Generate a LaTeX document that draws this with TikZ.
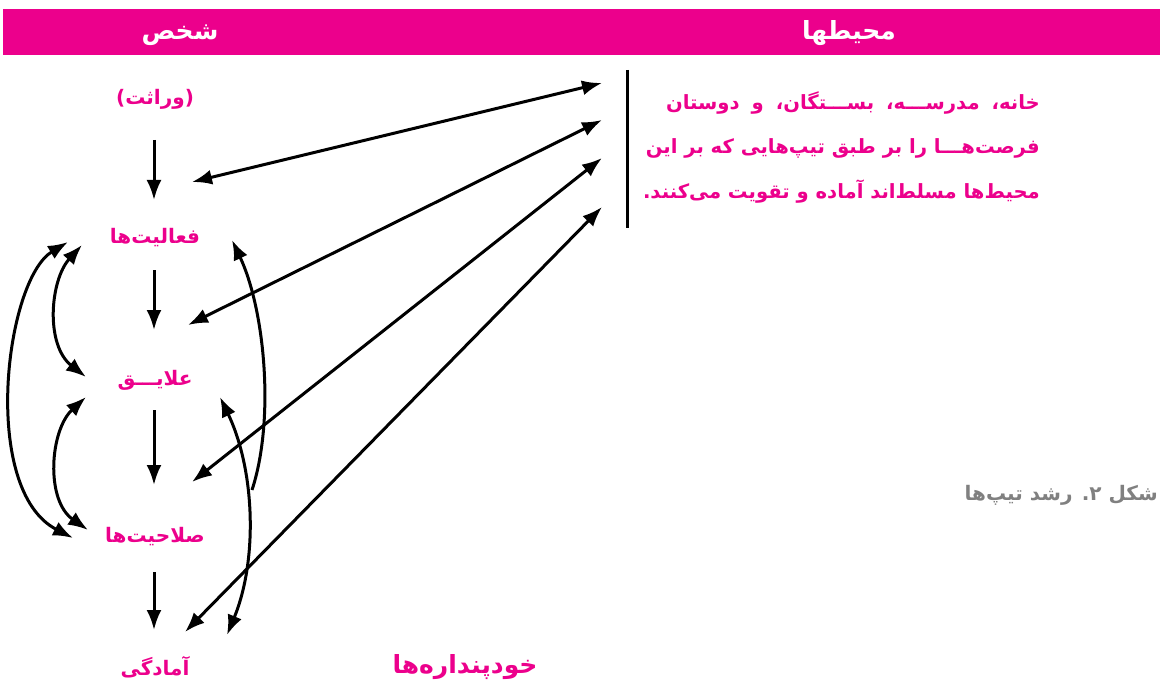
\documentclass[tikz,border=0pt]{standalone}
\usepackage{fontspec}
\usetikzlibrary{arrows.meta}
\TeXXeTstate=1
\newfontfamily\fa[Script=Arabic]{DejaVu Sans}
\definecolor{mag}{HTML}{EC008C}
\definecolor{capgray}{HTML}{808080}
\begin{document}
\begin{tikzpicture}[x=1pt,y=-1pt,
  lbl/.style={text=mag, font=\fa\bfseries\fontsize{20}{24}\selectfont, inner sep=0pt},
  hdr/.style={text=white, font=\fa\bfseries\fontsize{25}{28}\selectfont, inner sep=0pt},
  para/.style={text=mag, font=\fa\bfseries\fontsize{19.6}{24}\selectfont, inner sep=0pt, anchor=east},
  con/.style={line width=3pt, -{Latex[length=20pt,width=15pt]}},
  dcon/.style={line width=3pt, {Latex[length=20pt,width=15pt]}-{Latex[length=20pt,width=15pt]}}]
\useasboundingbox (0,0) rectangle (1160,682);
% header bar
\fill[mag] (3,9) rectangle (1160,55);
\node[hdr] (shakhs) at (180,35) {\beginR شخص\endR};
\node[hdr] (mohit) at (849,33) {\beginR محیطها\endR};
% column labels
\node[lbl] (verasat) at (155,99) {\beginR(وراثت)\endR};
\node[lbl] (faal) at (155,238) {\beginR فعالیت‌ها\endR};
\node[lbl] (alayeq) at (155,380) {\beginR علایـــق\endR};
\node[lbl] (salah) at (155,537) {\beginR صلاحیت‌ها\endR};
\node[lbl] (amadegi) at (155,667) {\beginR آمادگی\endR};
\node[lbl, font=\fa\bfseries\fontsize{25}{28}\selectfont] (khod) at (465,667) {\beginR خودپنداره‌ها\endR};
% paragraph
\node[para] (p1) at (1040,103) {\beginR خانه،\hspace{12pt}مدرســـه،\hspace{12pt}بســـتگان،\hspace{12pt}و\hspace{12pt}دوستان\endR};
\node[para] (p2) at (1040,148) {\beginR فرصت‌هـــا را بر طبق تیپ‌هایی که بر این\endR};
\node[para] (p3) at (1040,192) {\beginR محیط‌ها مسلط‌اند آماده و تقویت می‌کنند.\endR};
\node[text=capgray, font=\fa\bfseries\fontsize{20}{24}\selectfont, inner sep=0pt, anchor=east] (cap) at (1158,495) {\beginR شکل ۲. رشد تیپ‌ها\endR};
% separator
\coordinate (s1) at (627,70);
\coordinate (s2) at (627,228);
\draw[line width=3pt] (s1) -- (s2);
% vertical arrows
\coordinate (v1a) at (154,140); \coordinate (v1b) at (154,200);
\coordinate (v2a) at (154,270); \coordinate (v2b) at (154,330);
\coordinate (v3a) at (154,410); \coordinate (v3b) at (154,485);
\coordinate (v4a) at (154,572); \coordinate (v4b) at (154,630);
\draw[con] (v1a) -- (v1b);
\draw[con] (v2a) -- (v2b);
\draw[con] (v3a) -- (v3b);
\draw[con] (v4a) -- (v4b);
% long lines to environment
\coordinate (l1a) at (192,182); \coordinate (l1b) at (602,83);
\coordinate (l2a) at (188,325); \coordinate (l2b) at (602,120);
\coordinate (l3a) at (192,482); \coordinate (l3b) at (602,158);
\coordinate (l4a) at (185,632); \coordinate (l4b) at (602,207);
\draw[dcon] (l1a) -- (l1b);
\draw[dcon] (l2a) -- (l2b);
\draw[dcon] (l3a) -- (l3b);
\draw[dcon] (l4a) -- (l4b);
% left curves
\coordinate (a1) at (68,242); \coordinate (a2) at (73,538);
\coordinate (b1) at (82,245); \coordinate (b2) at (86,377);
\coordinate (c1) at (86,397); \coordinate (c2) at (88,530);
\draw[dcon] (a1) .. controls (5,280) and (-20,490) .. (a2);
\draw[dcon] (b1) .. controls (50,280) and (45,345) .. (b2);
\draw[dcon] (c1) .. controls (50,430) and (45,500) .. (c2);
% right curves
\coordinate (d1) at (252,490); \coordinate (d2) at (232,240);
\coordinate (e1) at (220,397); \coordinate (e2) at (227,635);
\draw[dcon] (e1) .. controls (255,470) and (258,560) .. (e2);
\draw[con] (d1) .. controls (275,420) and (265,310) .. (d2);
\end{tikzpicture}
\end{document}
